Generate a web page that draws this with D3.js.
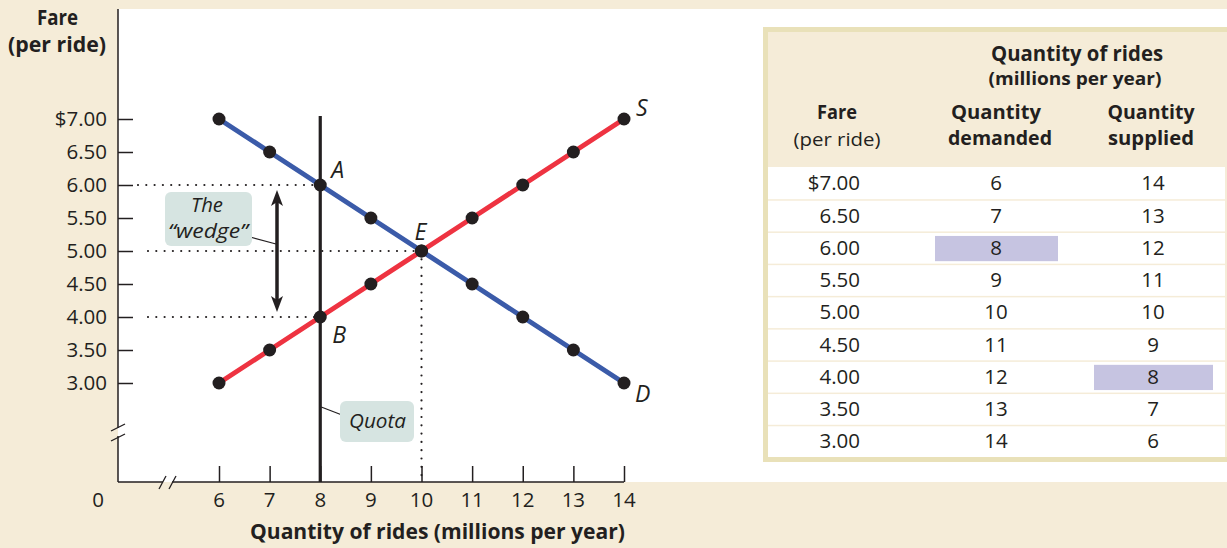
<!DOCTYPE html>
<html><head><meta charset="utf-8">
<script src="https://cdn.jsdelivr.net/npm/d3@7"></script>
<style>
html,body{margin:0;padding:0;background:#f5ecd8;}
svg{display:block;}
text{font-family:"Open Sans","Noto Sans",sans-serif;fill:#231f20;}
</style></head>
<body>
<svg id="c" width="1227" height="548"></svg>
<script>
const fares = [7.00, 6.50, 6.00, 5.50, 5.00, 4.50, 4.00, 3.50, 3.00];
const qtyDemanded = [6, 7, 8, 9, 10, 11, 12, 13, 14];
const qtySupplied = [14, 13, 12, 11, 10, 9, 8, 7, 6];
const xTicks = [6, 7, 8, 9, 10, 11, 12, 13, 14];
const yTickLabels = ["$7.00","6.50","6.00","5.50","5.00","4.50","4.00","3.50","3.00"];
const quota = 8;
const quotaDemandPrice = 6.00;
const quotaSupplyPrice = 4.00;
const eqQ = 10, eqP = 5.00;

const BG = "#f5ecd8";
const svg = d3.select("#c");
svg.append("rect").attr("width",1227).attr("height",548).attr("fill",BG);
svg.append("rect").attr("x",118).attr("y",9).attr("width",1227-118).attr("height",482-9).attr("fill","#fff");

const x = d3.scaleLinear().domain([6,14]).range([219,624]);
const y = d3.scaleLinear().domain([3,7]).range([383,119]);
const X0 = 118, Y0 = 482;
const FS = 20.5;

function fit(sel, w){
  sel.attr("textLength", w).attr("lengthAdjust","spacingAndGlyphs");
  return sel;
}

// axes
const g = svg.append("g");
g.append("line").attr("x1",X0).attr("x2",X0).attr("y1",9).attr("y2",428).attr("stroke","#231f20").attr("stroke-width",1.5);
g.append("line").attr("x1",X0).attr("x2",X0).attr("y1",436).attr("y2",Y0).attr("stroke","#231f20").attr("stroke-width",1.5);
g.append("line").attr("x1",X0).attr("x2",163).attr("y1",Y0).attr("y2",Y0).attr("stroke","#231f20").attr("stroke-width",1.5);
g.append("line").attr("x1",172).attr("x2",x(14)).attr("y1",Y0).attr("y2",Y0).attr("stroke","#231f20").attr("stroke-width",1.5);
[[111,431,125,424],[111,441,125,434]].forEach(d=>g.append("line").attr("x1",d[0]).attr("y1",d[1]).attr("x2",d[2]).attr("y2",d[3]).attr("stroke","#231f20").attr("stroke-width",1.3));
[[159,489,166,476],[169,489,176,476]].forEach(d=>g.append("line").attr("x1",d[0]).attr("y1",d[1]).attr("x2",d[2]).attr("y2",d[3]).attr("stroke","#231f20").attr("stroke-width",1.3));

// y ticks
const yAxis = d3.axisRight(y).tickValues(fares).tickSize(15).tickFormat("");
const ya = svg.append("g").attr("transform",`translate(${X0},0)`).call(yAxis);
ya.select(".domain").remove();
ya.selectAll("line").attr("stroke","#231f20").attr("stroke-width",1.5);
svg.append("g").selectAll("text").data(fares).join("text")
  .attr("x",107).attr("y",d=>y(d)).attr("dy","0.36em").attr("text-anchor","end")
  .attr("font-size",FS).text((d,i)=>yTickLabels[i]);

// x ticks
const xAxis = d3.axisTop(x).tickValues(xTicks).tickSize(16).tickFormat("");
const xa = svg.append("g").attr("transform",`translate(0,${Y0})`).call(xAxis);
xa.select(".domain").remove();
xa.selectAll("line").attr("stroke","#231f20").attr("stroke-width",1.5);
svg.append("g").selectAll("text").data(xTicks).join("text")
  .attr("x",d=>x(d)).attr("y",500).attr("dy","0.36em").attr("text-anchor","middle")
  .attr("font-size",FS).text(d=>d);
svg.append("text").attr("x",98).attr("y",500).attr("dy","0.36em").attr("text-anchor","middle").attr("font-size",FS).text("0");

// axis titles
fit(svg.append("text").attr("x",37).attr("y",25).attr("font-size",21).attr("font-weight","bold").text("Fare"),41);
fit(svg.append("text").attr("x",8).attr("y",52).attr("font-size",21).attr("font-weight","bold").text("(per ride)"),98);
fit(svg.append("text").attr("x",250).attr("y",539).attr("font-size",21).attr("font-weight","bold").text("Quantity of rides (millions per year)"),375);

// dotted guides
const dot = (x1,y1,x2,y2)=>svg.append("line").attr("x1",x1).attr("y1",y1).attr("x2",x2).attr("y2",y2)
  .attr("stroke","#231f20").attr("stroke-width",2.2).attr("stroke-linecap","round").attr("stroke-dasharray","0,8.3");
dot(138,y(quotaDemandPrice),x(quota),y(quotaDemandPrice));
dot(148,y(eqP),x(eqQ),y(eqP));
dot(148,y(quotaSupplyPrice),x(quota),y(quotaSupplyPrice));
dot(x(eqQ),y(eqP),x(eqQ),Y0-4);

// curves
const line = d3.line().x(d=>x(d[0])).y(d=>y(d[1]));
const demand = qtyDemanded.map((q,i)=>[q,fares[i]]);
const supply = qtySupplied.map((q,i)=>[q,fares[i]]);
svg.append("path").attr("d",line(demand)).attr("fill","none").attr("stroke","#3b5ba9").attr("stroke-width",5);
svg.append("path").attr("d",line(supply)).attr("fill","none").attr("stroke","#ee3341").attr("stroke-width",5);

// quota line
svg.append("line").attr("x1",x(quota)).attr("x2",x(quota)).attr("y1",116).attr("y2",Y0).attr("stroke","#231f20").attr("stroke-width",3.2);

// points
svg.append("g").selectAll("circle").data(demand.concat(supply)).join("circle")
  .attr("cx",d=>x(d[0])).attr("cy",d=>y(d[1])).attr("r",6.5).attr("fill","#231f20");

// wedge arrow
const ax = 277;
svg.append("line").attr("x1",ax).attr("x2",ax).attr("y1",y(quotaDemandPrice)+14).attr("y2",y(quotaSupplyPrice)-14).attr("stroke","#231f20").attr("stroke-width",3.5);
svg.append("path").attr("d",`M${ax},${y(quotaDemandPrice)+5} L${ax-6},${y(quotaDemandPrice)+21} L${ax},${y(quotaDemandPrice)+17} L${ax+6},${y(quotaDemandPrice)+21}Z`).attr("fill","#231f20");
svg.append("path").attr("d",`M${ax},${y(quotaSupplyPrice)-5} L${ax-6},${y(quotaSupplyPrice)-21} L${ax},${y(quotaSupplyPrice)-17} L${ax+6},${y(quotaSupplyPrice)-21}Z`).attr("fill","#231f20");

// label boxes
const BOX = "#d6e4e1";
svg.append("line").attr("x1",250).attr("y1",237).attr("x2",276).attr("y2",244).attr("stroke","#231f20").attr("stroke-width",1.2);
svg.append("rect").attr("x",165).attr("y",192).attr("width",87).attr("height",54).attr("rx",6).attr("fill",BOX);
fit(svg.append("text").attr("x",191).attr("y",212).attr("font-size",20).attr("font-style","italic").text("The"),32);
fit(svg.append("text").attr("x",168).attr("y",238).attr("font-size",20).attr("font-style","italic").text("\u201Cwedge\u201D"),80);

svg.append("line").attr("x1",x(quota)+1).attr("y1",407).attr("x2",342).attr("y2",415).attr("stroke","#231f20").attr("stroke-width",1.2);
svg.append("rect").attr("x",340).attr("y",401).attr("width",74).attr("height",41).attr("rx",6).attr("fill",BOX);
fit(svg.append("text").attr("x",349).attr("y",428).attr("font-size",20.5).attr("font-style","italic").text("Quota"),57);

// point labels
const lab = (t,xx,yy)=>svg.append("text").attr("x",xx).attr("y",yy).attr("font-size",23).attr("font-style","italic").text(t);
lab("A",x(quota)+11,y(quotaDemandPrice)-7);
lab("B",x(quota)+12,y(quotaSupplyPrice)+26);
lab("E",x(eqQ)-7,y(eqP)-11);
lab("S",x(14)+12,y(7)-3);
lab("D",x(14)+11,y(3)+19);

// ---- table ----
const T = svg.append("g");
const tx0 = 763, tx1 = 1227, ty0 = 27, ty1 = 462;
T.append("rect").attr("x",tx0+2.5).attr("y",ty0+2.5).attr("width",tx1-tx0).attr("height",ty1-ty0-5).attr("fill",BG).attr("stroke","#e9e1b9").attr("stroke-width",5);
const rowTop = 167, rowH = (457-167)/fares.length;
T.append("g").selectAll("rect").data(fares).join("rect")
  .attr("x",tx0+5).attr("width",tx1-tx0-7).attr("y",(d,i)=>rowTop+i*rowH+ (i?1.5:0)).attr("height",(d,i)=>rowH-(i?1.5:0)).attr("fill","#fff");
const hiD = qtyDemanded.indexOf(quota), hiS = qtySupplied.indexOf(quota);
T.append("rect").attr("x",935).attr("width",123).attr("y",rowTop+hiD*rowH+4.5).attr("height",rowH-7).attr("fill","#c6c4e1");
T.append("rect").attr("x",1094).attr("width",119).attr("y",rowTop+hiS*rowH+4.5).attr("height",rowH-7).attr("fill","#c6c4e1");

const cy = i=>rowTop+(i+0.5)*rowH;
T.append("g").selectAll("text").data(fares).join("text").attr("x",860).attr("y",(d,i)=>cy(i)).attr("dy","0.36em").attr("text-anchor","end").attr("font-size",FS).text((d,i)=>yTickLabels[i]);
T.append("g").selectAll("text").data(qtyDemanded).join("text").attr("x",996).attr("y",(d,i)=>cy(i)).attr("dy","0.36em").attr("text-anchor","middle").attr("font-size",FS).text(d=>d);
T.append("g").selectAll("text").data(qtySupplied).join("text").attr("x",1153).attr("y",(d,i)=>cy(i)).attr("dy","0.36em").attr("text-anchor","middle").attr("font-size",FS).text(d=>d);

const ht = (t,cx,yy,fs,bold,w)=>fit(T.append("text").attr("x",cx-w/2).attr("y",yy).attr("font-size",fs).attr("font-weight",bold?"bold":"normal").text(t),w);
ht("Quantity of rides",1077,61,20.5,true,172);
ht("(millions per year)",1075,85,18,true,173);
ht("Fare",837,119,19.5,true,40);
ht("(per ride)",837,146,18.5,false,87);
ht("Quantity",996,119,19.5,true,90);
ht("demanded",1000,145,19.5,true,104);
ht("Quantity",1151,119,19.5,true,87);
ht("supplied",1151,145,19.5,true,86);
</script>
</body></html>
